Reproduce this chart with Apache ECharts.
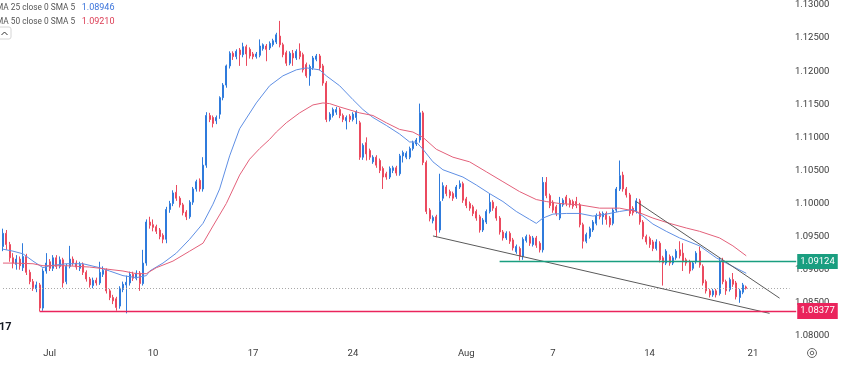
<!DOCTYPE html>
<html><head><meta charset="utf-8">
<script src="https://cdn.jsdelivr.net/npm/echarts@6/dist/echarts.min.js"></script>
<style>html,body{margin:0;padding:0;background:#fff}#c{width:843px;height:372px}</style>
</head><body><div id="c"></div>
<script>
// ---- DATA (4H EUR/USD candles) ----
const opens=[
1.0935,1.0955,1.0938,1.0918,1.0908,1.0916,1.0903,1.0920,1.0896,1.0882,
1.0871,1.0877,1.0842,1.0898,1.0912,1.0902,1.0918,1.0905,1.0915,1.0882,
1.0905,1.0916,1.0910,1.0902,1.0908,1.0896,1.0886,1.0876,1.0884,1.0880,
1.0893,1.0899,1.0868,1.0858,1.0856,1.0845,1.0870,1.0877,1.0880,1.0893,
1.0887,1.0895,1.0879,1.0910,1.0972,1.0968,1.0965,1.0960,1.0952,1.0946,
1.0991,1.1000,1.1017,1.1008,1.0998,1.0987,1.0980,1.1002,1.1022,1.1035,
1.1022,1.1058,1.1133,1.1130,1.1125,1.1135,1.1160,1.1179,1.1208,1.1227,
1.1222,1.1232,1.1225,1.1237,1.1233,1.1226,1.1222,1.1224,1.1234,1.1238,
1.1235,1.1240,1.1244,1.1253,1.1240,1.1228,1.1212,1.1227,1.1220,1.1230,
1.1225,1.1210,1.1193,1.1205,1.1218,1.1223,1.1208,1.1182,1.1127,1.1133,
1.1138,1.1142,1.1133,1.1125,1.1132,1.1127,1.1130,1.1122,1.1070,1.1092,
1.1080,1.1063,1.1070,1.1065,1.1053,1.1045,1.1040,1.1050,1.1054,1.1045,
1.1072,1.1070,1.1070,1.1083,1.1090,1.1096,1.1137,1.1062,1.0990,1.0974,
1.0980,1.0960,1.1008,1.1025,1.1018,1.1015,1.1010,1.1025,1.1030,1.1007,
1.1000,1.0995,1.0988,1.0980,1.0960,1.0972,1.0988,1.1002,1.0993,1.0978,
1.0957,1.0948,1.0955,1.0945,1.0927,1.0932,1.0920,1.0944,1.0950,1.0938,
1.0948,1.0940,1.0930,1.1032,1.1012,1.1002,1.0995,1.0978,1.0998,1.1010,
1.1005,1.1003,1.1003,1.0998,1.0968,1.0943,1.0950,1.0960,1.0970,1.0985,
1.0980,1.0985,1.0978,1.0970,1.0990,1.1022,1.1043,1.1022,1.1013,1.0993,
1.0988,1.1004,1.0972,1.0950,1.0947,1.0942,1.0932,1.0940,1.0918,1.0910,
1.0920,1.0910,1.0918,1.0930,1.0925,1.0915,1.0912,1.0902,1.0912,1.0928,
1.0905,1.0882,1.0868,1.0862,1.0868,1.0864,1.0912,1.0882,1.0870,1.0885,
1.0880,1.0858,1.0866,1.0874];
const closes=[
1.0955,1.0938,1.0918,1.0910,1.0916,1.0906,1.0920,1.0896,1.0882,1.0873,
1.0877,1.0842,1.0898,1.0910,1.0902,1.0918,1.0905,1.0915,1.0880,1.0905,
1.0916,1.0910,1.0904,1.0908,1.0896,1.0886,1.0877,1.0884,1.0880,1.0896,
1.0899,1.0868,1.0858,1.0853,1.0843,1.0872,1.0878,1.0881,1.0893,1.0887,
1.0895,1.0879,1.0910,1.0972,1.0967,1.0964,1.0958,1.0950,1.0946,1.0991,
1.1000,1.1016,1.1008,1.0998,1.0986,1.0980,1.1002,1.1022,1.1033,1.1022,
1.1058,1.1133,1.1127,1.1121,1.1130,1.1160,1.1179,1.1208,1.1227,1.1222,
1.1230,1.1225,1.1237,1.1226,1.1223,1.1222,1.1226,1.1238,1.1240,1.1233,
1.1242,1.1246,1.1255,1.1240,1.1225,1.1212,1.1227,1.1220,1.1230,1.1222,
1.1202,1.1193,1.1207,1.1220,1.1223,1.1205,1.1182,1.1127,1.1135,1.1142,
1.1142,1.1133,1.1127,1.1130,1.1127,1.1135,1.1138,1.1070,1.1088,1.1075,
1.1070,1.1070,1.1058,1.1050,1.1040,1.1040,1.1053,1.1054,1.1046,1.1072,
1.1077,1.1076,1.1083,1.1092,1.1096,1.1137,1.1062,1.0988,1.0977,1.0979,
1.0960,1.1003,1.1027,1.1015,1.1012,1.1008,1.1025,1.1030,1.1005,1.0997,
1.0993,1.0985,1.0978,1.0960,1.0975,1.0988,1.1002,1.0993,1.0978,1.0957,
1.0948,1.0955,1.0943,1.0933,1.0935,1.0920,1.0946,1.0950,1.0940,1.0948,
1.0937,1.0930,1.1032,1.1012,1.0997,1.0990,1.0985,1.1000,1.1005,1.1000,
1.0998,1.0996,1.0997,1.0968,1.0943,1.0953,1.0962,1.0972,1.0982,1.0980,
1.0985,1.0976,1.0968,1.0990,1.1022,1.1042,1.1022,1.1013,1.0985,1.0986,
1.1004,1.0972,1.0950,1.0942,1.0938,1.0932,1.0942,1.0915,1.0910,1.0928,
1.0910,1.0918,1.0928,1.0921,1.0912,1.0910,1.0898,1.0910,1.0925,1.0907,
1.0880,1.0868,1.0862,1.0868,1.0862,1.0912,1.0882,1.0868,1.0885,1.0878,
1.0859,1.0868,1.0877,1.0872];
const lows=[
1.0928,1.0930,1.0912,1.0902,1.0900,1.0900,1.0898,1.0892,1.0878,1.0868,
1.0866,1.0837,1.0838,1.0894,1.0898,1.0898,1.0901,1.0902,1.0873,1.0878,
1.0902,1.0906,1.0900,1.0898,1.0892,1.0882,1.0873,1.0872,1.0876,1.0877,
1.0889,1.0864,1.0854,1.0848,1.0838,1.0841,1.0866,1.0834,1.0876,1.0883,
1.0884,1.0868,1.0876,1.0906,1.0962,1.0958,1.0954,1.0946,1.0940,1.0940,
1.0986,1.0996,1.1004,1.0994,1.0982,1.0975,1.0977,1.0998,1.1018,1.1018,
1.1018,1.1054,1.1123,1.1115,1.1120,1.1128,1.1156,1.1175,1.1204,1.1217,
1.1218,1.1208,1.1221,1.1208,1.1219,1.1218,1.1219,1.1221,1.1231,1.1215,
1.1232,1.1237,1.1241,1.1236,1.1221,1.1208,1.1209,1.1208,1.1217,1.1218,
1.1198,1.1190,1.1178,1.1202,1.1215,1.1201,1.1178,1.1123,1.1124,1.1130,
1.1134,1.1129,1.1123,1.1112,1.1123,1.1124,1.1120,1.1066,1.1066,1.1065,
1.1066,1.1060,1.1054,1.1046,1.1022,1.1036,1.1037,1.1046,1.1042,1.1042,
1.1062,1.1067,1.1067,1.1080,1.1087,1.1092,1.1058,1.0984,1.0973,1.0970,
1.0949,1.0956,1.1004,1.1011,1.1008,1.1004,1.1007,1.1022,1.1001,1.0993,
1.0989,1.0981,1.0974,1.0956,1.0957,1.0969,1.0985,1.0989,1.0974,1.0953,
1.0944,1.0945,1.0939,1.0929,1.0924,1.0914,1.0915,1.0941,1.0936,1.0935,
1.0933,1.0926,1.0926,1.1008,1.0993,1.0986,1.0981,1.0975,1.0995,1.0996,
1.0994,1.0992,1.0993,1.0964,1.0932,1.0940,1.0947,1.0957,1.0967,1.0976,
1.0968,1.0968,1.0964,1.0967,1.0987,1.1019,1.1018,1.1009,1.0981,1.0982,
1.0985,1.0968,1.0946,1.0938,1.0933,1.0928,1.0929,1.0911,1.0876,1.0907,
1.0906,1.0907,1.0915,1.0917,1.0898,1.0906,1.0894,1.0899,1.0909,1.0903,
1.0876,1.0864,1.0858,1.0859,1.0858,1.0861,1.0878,1.0862,1.0867,1.0874,
1.0855,1.0850,1.0863,1.0870];
const highs=[
1.0962,1.0960,1.0942,1.0925,1.0922,1.0920,1.0940,1.0924,1.0900,1.0886,
1.0882,1.0880,1.0902,1.0925,1.0916,1.0922,1.0922,1.0920,1.0918,1.0909,
1.0936,1.0920,1.0914,1.0912,1.0911,1.0899,1.0889,1.0888,1.0888,1.0912,
1.0905,1.0902,1.0871,1.0862,1.0859,1.0875,1.0882,1.0891,1.0897,1.0897,
1.0899,1.0898,1.0930,1.0976,1.0980,1.0976,1.0968,1.0963,1.0955,1.0995,
1.1004,1.1020,1.1028,1.1011,1.1001,1.0990,1.1005,1.1025,1.1036,1.1038,
1.1070,1.1138,1.1137,1.1133,1.1133,1.1162,1.1182,1.1210,1.1230,1.1230,
1.1233,1.1235,1.1243,1.1240,1.1236,1.1229,1.1229,1.1248,1.1242,1.1241,
1.1245,1.1249,1.1258,1.1276,1.1243,1.1231,1.1230,1.1232,1.1233,1.1242,
1.1228,1.1213,1.1210,1.1223,1.1226,1.1226,1.1211,1.1185,1.1138,1.1145,
1.1146,1.1145,1.1136,1.1133,1.1135,1.1138,1.1141,1.1125,1.1091,1.1100,
1.1083,1.1073,1.1073,1.1068,1.1056,1.1048,1.1056,1.1057,1.1057,1.1075,
1.1080,1.1079,1.1086,1.1095,1.1099,1.1151,1.1140,1.1065,1.0993,1.0982,
1.0983,1.1045,1.1032,1.1028,1.1021,1.1018,1.1028,1.1035,1.1033,1.1010,
1.1003,1.0998,1.0991,1.0983,1.0978,1.0991,1.1015,1.1005,1.0996,1.0981,
1.0960,1.0958,1.0958,1.0948,1.0938,1.0935,1.0949,1.0953,1.0953,1.0951,
1.0951,1.0943,1.1040,1.1040,1.1015,1.1005,1.0998,1.1010,1.1008,1.1013,
1.1008,1.1006,1.1010,1.1001,1.0971,1.0956,1.0965,1.0975,1.0985,1.0988,
1.0988,1.0988,1.0981,1.0993,1.1025,1.1065,1.1048,1.1025,1.1016,1.0996,
1.1008,1.1007,1.0975,1.0953,1.0950,1.0945,1.0946,1.0943,1.0921,1.0931,
1.0923,1.0921,1.0931,1.0943,1.0940,1.0918,1.0915,1.0913,1.0928,1.0935,
1.0908,1.0885,1.0871,1.0871,1.0871,1.0918,1.0918,1.0885,1.0888,1.0895,
1.0883,1.0871,1.0880,1.0876];
// moving averages: [bar index, value]
const ma25=[[0,1.0931],[3,1.0928],[6,1.0924],[9,1.0913],[12,1.0903],[14,1.0906],[19,1.0909],[24,1.0909],[29,1.0903],[32,1.0898],[36,1.0891],[40,1.0888],[43,1.0891],[44,1.0898],[48,1.0910],[52,1.0925],[56,1.0946],[60,1.0970],[63,1.0999],[65,1.1022],[68,1.1072],[71,1.1113],[76,1.1152],[80,1.1178],[84,1.1193],[88,1.1202],[91,1.1205],[95,1.1202],[97,1.1193],[101,1.1178],[105,1.1157],[108,1.1142],[111,1.1130],[115,1.1118],[119,1.1105],[122,1.1093],[124,1.1093],[126,1.1082],[129,1.1063],[132,1.1051],[138,1.1040],[142,1.1028],[146,1.1015],[150,1.1003],[154,1.0988],[158,1.0976],[160,1.0970],[162,1.0978],[165,1.0984],[169,1.0985],[173,1.0985],[177,1.0981],[181,1.0984],[185,1.0988],[189,1.0991],[192,1.0981],[195,1.0969],[199,1.0958],[203,1.0948],[209,1.0936],[214,1.0918],[217,1.0910],[223,1.08946]];
const ma50=[[0,1.0910],[3,1.0910],[9,1.0909],[12,1.0906],[19,1.0906],[26,1.0904],[31,1.0901],[36,1.0898],[40,1.0894],[43,1.0894],[46,1.0903],[51,1.0913],[56,1.0928],[60,1.0940],[63,1.0966],[67,1.1000],[71,1.1043],[74,1.1067],[77,1.1083],[80,1.1097],[82,1.1108],[85,1.1122],[89,1.1137],[93,1.1149],[96,1.1152],[98,1.1151],[101,1.1146],[107,1.1137],[111,1.1133],[115,1.1122],[119,1.1112],[123,1.1108],[126,1.1100],[130,1.1082],[135,1.1070],[140,1.1063],[145,1.1048],[150,1.1033],[155,1.1018],[160,1.1006],[163,1.1003],[167,1.1000],[173,1.0998],[179,1.0993],[185,1.0993],[190,1.0988],[195,1.0978],[200,1.0970],[205,1.0963],[209,1.0958],[215,1.0948],[219,1.0936],[223,1.09210]];
const xTicks=[['Jul',14],['10',45],['17',75],['24',105],['Aug',139],['7',165],['14',194],['21',225]];
const priceTicks=[1.080,1.085,1.090,1.095,1.100,1.105,1.110,1.115,1.120,1.125,1.130];
const lowerTrend=[[129,1.0951],[230,1.0834]];
const upperTrend=[[190,1.1003],[233,1.0857]];
const supportLevel=1.09124, supportStart=149;
const lowLevel=1.08377, lowStart=11;
const lastPrice=1.0872;
const ma25Last=1.08946, ma50Last=1.09210;
const TOTAL_SLOTS=239;

// ---- CHART ----
const UP='#2f7bdc', DOWN='#eb4a5f', MA25C='#5f8fe4', MA50C='#e3607a';
const GREEN='#1a9e80', PINK='#ea245c';
const FONT='Roboto, "Liberation Sans", sans-serif';
const cats=Array.from({length:TOTAL_SLOTS},(_,i)=>String(i));
const tickMap={}; xTicks.forEach(([t,i])=>tickMap[i]=t);
const candles=opens.map((o,i)=>[o,closes[i],lows[i],highs[i]]);
const last=TOTAL_SLOTS-1;

const chart=echarts.init(document.getElementById('c'),null,{renderer:'canvas'});
chart.setOption({
  animation:false,
  textStyle:{fontFamily:FONT},
  grid:{left:1.33,right:45.1,top:0,bottom:25},
  xAxis:{type:'category',data:cats,boundaryGap:true,
    axisLine:{show:false},axisTick:{show:false},splitLine:{show:false},
    axisLabel:{interval:0,color:'#3a3a3a',fontSize:9.5,margin:2,fontFamily:FONT,
      formatter:(v,idx)=>tickMap[idx]||''}},
  yAxis:{type:'value',position:'right',min:1.078318,max:1.130194,
    splitLine:{show:false},axisLine:{show:false},axisTick:{show:false},
    axisLabel:{customValues:priceTicks,formatter:v=>v.toFixed(5),color:'#3a3a3a',
      fontSize:9.5,margin:-3,fontFamily:FONT}},
  series:[
    {type:'candlestick',data:candles,barWidth:1.6,z:2,
      itemStyle:{color:UP,color0:DOWN,borderColor:UP,borderColor0:DOWN,borderWidth:1},
      markLine:{symbol:'none',silent:true,animation:false,label:{show:false},
        data:[
          [{coord:[0,lastPrice],lineStyle:{color:'#a8a8a8',width:1,type:[1,2]}},{coord:[236,lastPrice]}],
          [{coord:lowerTrend[0],lineStyle:{color:'#5a5a5a',width:1,type:'solid'}},{coord:lowerTrend[1]}],
          [{coord:upperTrend[0],lineStyle:{color:'#5a5a5a',width:1,type:'solid'}},{coord:upperTrend[1]}],
          [{coord:[supportStart,supportLevel],lineStyle:{color:GREEN,width:1.3,type:'solid'},
            label:{show:true,position:'end',distance:1,formatter:supportLevel.toFixed(5),color:'#fff',
              backgroundColor:GREEN,padding:[2,3,2,3],fontSize:9.5,lineHeight:11,fontFamily:FONT}},
           {coord:[last,supportLevel]}],
          [{coord:[lowStart,lowLevel],lineStyle:{color:PINK,width:1.3,type:'solid'},
            label:{show:true,position:'end',distance:1,formatter:lowLevel.toFixed(5),color:'#fff',
              backgroundColor:PINK,padding:[3,3,2,3],fontSize:9.5,lineHeight:11,fontFamily:FONT}},
           {coord:[last,lowLevel]}]
        ]}
    },
    {type:'line',data:ma25,symbol:'none',smooth:false,z:3,lineStyle:{color:MA25C,width:1}},
    {type:'line',data:ma50,symbol:'none',smooth:false,z:3,lineStyle:{color:MA50C,width:1}}
  ],
  graphic:[
    {type:'text',x:-4,y:2,style:{text:'{a|MA 25 close 0 SMA 5}  {b|'+ma25Last.toFixed(5)+'}',
      rich:{a:{fill:'#555',fontSize:8.3,fontFamily:FONT},b:{fill:'#3b74db',fontSize:9,fontFamily:FONT}}}},
    {type:'text',x:-4,y:16,style:{text:'{a|MA 50 close 0 SMA 5}  {b|'+ma50Last.toFixed(5)+'}',
      rich:{a:{fill:'#555',fontSize:8.3,fontFamily:FONT},b:{fill:'#dc3d55',fontSize:9,fontFamily:FONT}}}},
    {type:'rect',shape:{x:-2,y:27,width:13,height:12,r:2},style:{fill:'#fff',stroke:'#d6d6d6',lineWidth:1}},
    {type:'polyline',shape:{points:[[1.5,35],[4.5,32],[7.5,35]]},style:{stroke:'#333',lineWidth:1,fill:null}},
    {type:'text',x:-1,y:322,style:{text:'17',fontSize:11,fontWeight:'bold',fill:'#131722',fontFamily:FONT}},
    {type:'circle',shape:{cx:812,cy:353,r:4.5},style:{fill:'none',stroke:'#666',lineWidth:1}},
    {type:'circle',shape:{cx:812,cy:353,r:1.8},style:{fill:'none',stroke:'#666',lineWidth:1}}
  ]
});
</script></body></html>
